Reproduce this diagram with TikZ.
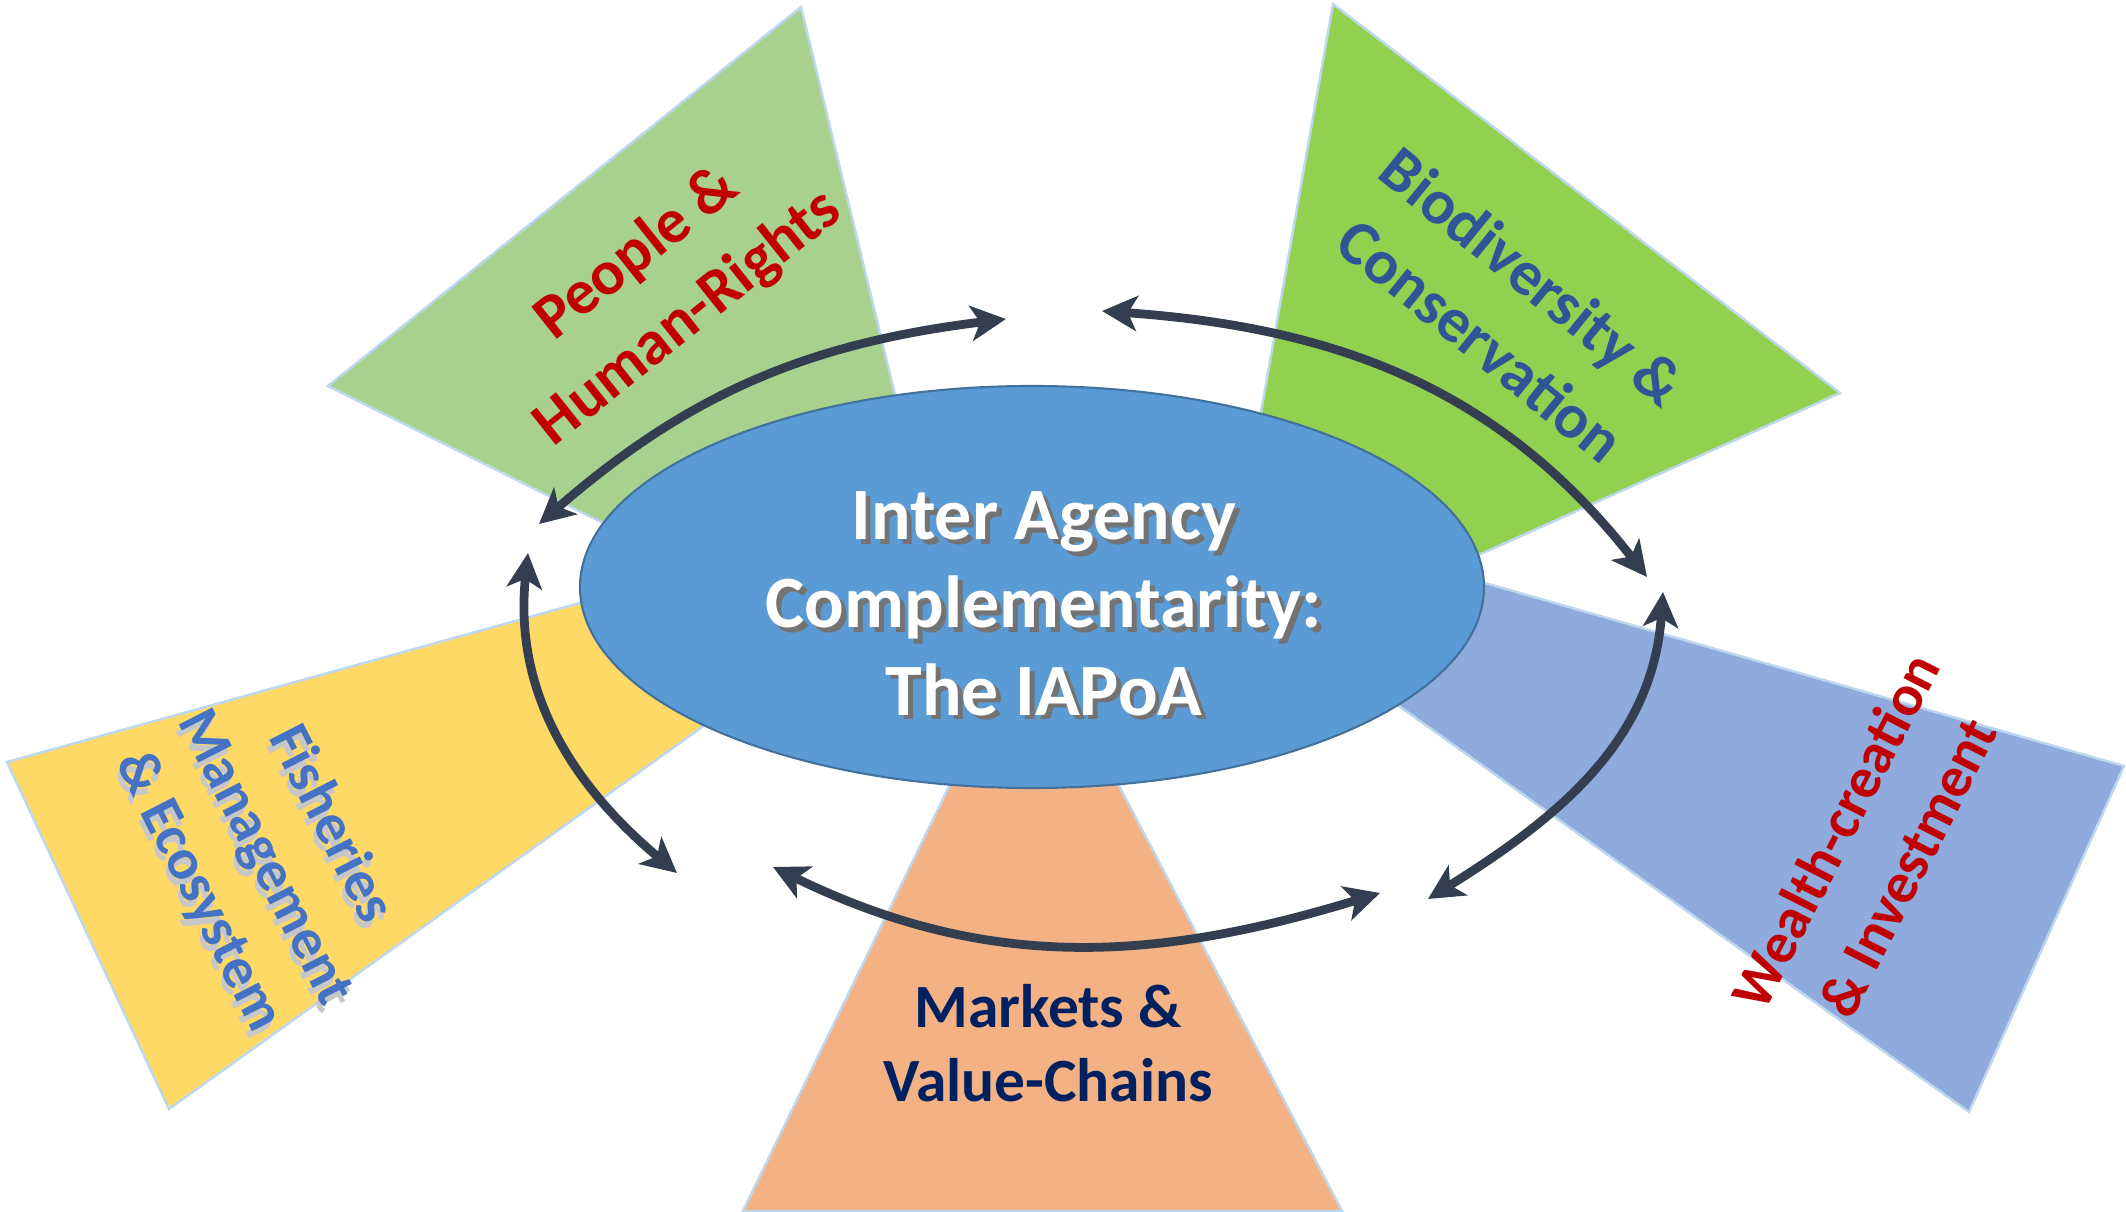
\documentclass[tikz,border=0pt]{standalone}
\usepackage{fontspec}
\setmainfont{Carlito}
\usetikzlibrary{shapes.geometric, arrows.meta}
\definecolor{peoplegreen}{HTML}{A9D18E}
\definecolor{biogreen}{HTML}{92D050}
\definecolor{wealthblue}{HTML}{8FAADC}
\definecolor{fishyellow}{HTML}{FFD966}
\definecolor{marketorange}{HTML}{F4B183}
\definecolor{edgeblue}{HTML}{BDD7EE}
\definecolor{hubblue}{HTML}{5B9BD5}
\definecolor{hubedge}{HTML}{41719C}
\definecolor{linkgray}{HTML}{333F50}
\definecolor{labelred}{HTML}{C00000}
\definecolor{labelblue}{HTML}{2F5597}
\definecolor{fishblue}{HTML}{4472C4}
\definecolor{navy}{HTML}{002060}
\newcommand{\hubline}[1]{\rlap{\kern1.4pt\raisebox{-1.4pt}{\color{black!55}#1}}#1}
\newcommand{\fishline}[1]{\rlap{\kern1.5pt\raisebox{-1.5pt}{\color{black!22}#1}}#1}
\tikzstyle{sect} = [draw=edgeblue, line width=0.7pt]
\tikzstyle{hub} = [ellipse, minimum width=9.04cm, minimum height=4.02cm, inner sep=0pt, draw=hubedge, line width=0.6pt, fill=hubblue]
\tikzstyle{hubtext} = [text=white, align=center, inner sep=0pt, font=\bfseries\fontsize{21}{25}\selectfont]
\tikzstyle{lbl} = [align=center, inner sep=0pt, font=\bfseries\fontsize{18}{23.5}\selectfont]
\tikzstyle{link} = [draw=linkgray, line width=2.5pt, >={Stealth[length=10pt, width=10pt, inset=2.6pt]}, <->]

\begin{document}
\begin{tikzpicture}
\useasboundingbox (0,0) rectangle (21.26,12.11);
% Drawing sectors
\path[sect, fill=peoplegreen] (3.28,8.25) -- (8.01,12.04) -- (9.35,6.51) -- (7.50,6.15) -- cycle;
\path[sect, fill=biogreen] (13.33,12.07) -- (18.40,8.18) -- (13.00,5.76) -- (12.35,6.51) -- cycle;
\path[sect, fill=wealthblue] (13.00,6.81) -- (21.24,4.45) -- (19.69,0.99) -- (12.50,6.11) -- cycle;
\path[sect, fill=fishyellow] (0.07,4.49) -- (8.00,6.69) -- (8.50,5.90) -- (1.69,1.02) -- cycle;
\path[sect, fill=marketorange] (7.43,0) -- (9.91,5.11) -- (10.74,5.11) -- (13.42,0) -- cycle;

% Drawing nodes
\node (hub) [hub] at (10.32,6.24) {};
\node (title) [hubtext] at (10.44,6.05) {\hubline{Inter Agency}\\ \hubline{Complementarity:}\\ \hubline{The IAPoA}};
\node (people) [lbl, text=labelred, rotate=38.5] at (6.63,9.25) {People \&\\ Human-Rights};
\node (bio) [lbl, text=labelblue, rotate=-39] at (15.07,9.03) {Biodiversity \&\\ Conservation};
\node (fish) [lbl, text=fishblue, rotate=-63, font=\bfseries\fontsize{16.5}{21}\selectfont] at (2.62,3.52) {\fishline{Fisheries}\\ \fishline{Management}\\ \fishline{\& Ecosystem}};
\node (wealth) [lbl, text=labelred, rotate=63, font=\bfseries\fontsize{16.5}{23}\selectfont] at (18.71,3.62) {Wealth-creation\\ \& Investment};
\node (markets) [lbl, text=navy, font=\bfseries\fontsize{17.5}{21}\selectfont] at (10.48,1.68) {Markets \&\\ Value-Chains};

% Drawing arrows
\coordinate (a1) at (5.39,6.87);
\coordinate (b1) at (10.06,8.92);
\coordinate (a2) at (11.02,9.00);
\coordinate (b2) at (16.47,6.34);
\coordinate (a3) at (16.63,6.19);
\coordinate (b3) at (14.28,3.12);
\coordinate (a4) at (13.80,3.18);
\coordinate (b4) at (7.73,3.44);
\coordinate (a5) at (6.77,3.38);
\coordinate (b5) at (5.28,6.58);
\draw [link] (a1) to[out=41, in=187] (b1);
\draw [link] (a2) to[out=-4, in=128] (b2);
\draw [link] (a3) to[out=-94, in=32] (b3);
\draw [link] (a4) to[out=197, in=-26] (b4);
\draw [link] (a5) to[out=140, in=-96] (b5);
\end{tikzpicture}
\end{document}
